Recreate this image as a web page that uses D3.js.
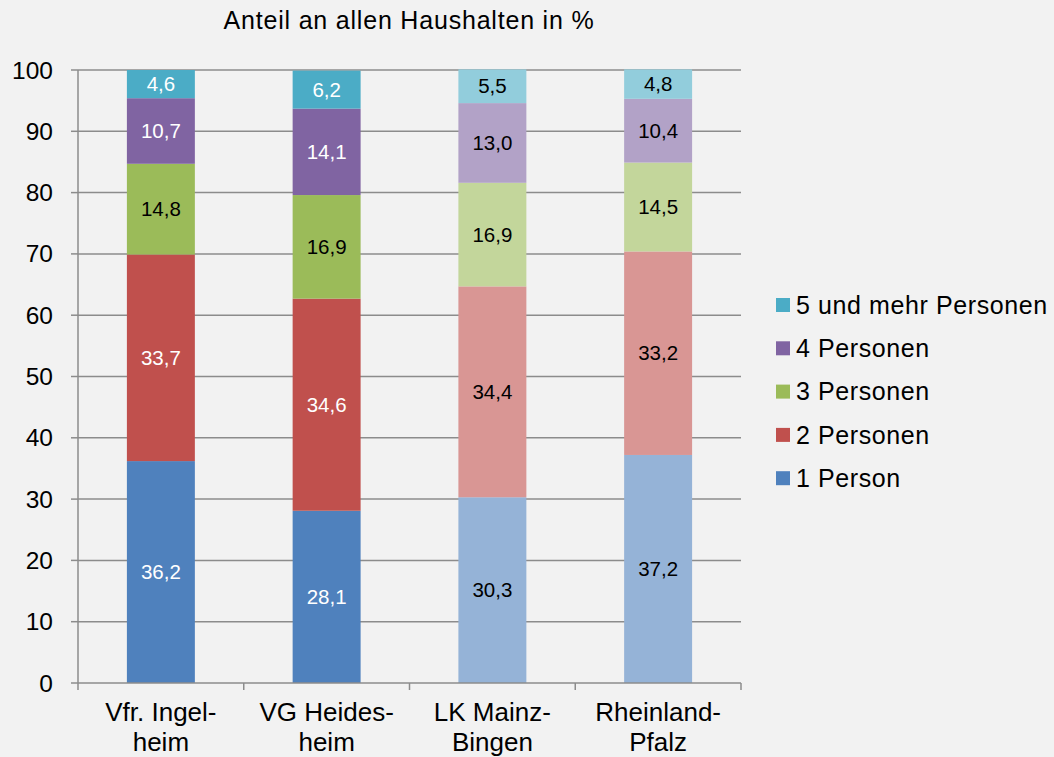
<!DOCTYPE html>
<html>
<head>
<meta charset="utf-8">
<script src="https://cdn.jsdelivr.net/npm/d3@7"></script>
<style>
  body { margin: 0; background: #f2f2f2; }
  text { font-family: "Liberation Sans", Arial, sans-serif; }
</style>
</head>
<body>
<div id="wrapper"></div>
<script>
// Data
const categories = [["Vfr. Ingel-", "heim"], ["VG Heides-", "heim"], ["LK Mainz-", "Bingen"], ["Rheinland-", "Pfalz"]];
const seriesNames = ["1 Person", "2 Personen", "3 Personen", "4 Personen", "5 und mehr Personen"];
const person1 = [36.2, 28.1, 30.3, 37.2];
const person2 = [33.7, 34.6, 34.4, 33.2];
const person3 = [14.8, 16.9, 16.9, 14.5];
const person4 = [10.7, 14.1, 13.0, 10.4];
const person5 = [4.6, 6.2, 5.5, 4.8];
const yTicks = [0, 10, 20, 30, 40, 50, 60, 70, 80, 90, 100];

const darkColors = ["#4f81bd", "#c0504d", "#9bbb59", "#8064a2", "#4bacc6"];
const lightColors = ["#95b3d7", "#d99694", "#c3d69b", "#b2a2c7", "#92cddc"];

const seriesValues = [person1, person2, person3, person4, person5];

function drawChart() {
  const dimensions = {
    width: 1054,
    height: 757,
    margin: { top: 70, right: 313, bottom: 74, left: 78 },
  };
  dimensions.boundedWidth = dimensions.width - dimensions.margin.left - dimensions.margin.right;
  dimensions.boundedHeight = dimensions.height - dimensions.margin.top - dimensions.margin.bottom;

  const wrapper = d3.select("#wrapper")
    .append("svg")
    .attr("width", dimensions.width)
    .attr("height", dimensions.height)
    .style("background", "#f2f2f2");

  // title
  wrapper.append("text")
    .attr("x", 409)
    .attr("y", 29)
    .attr("text-anchor", "middle")
    .style("font-size", "25px")
    .style("letter-spacing", "0.8px")
    .attr("fill", "#000")
    .text("Anteil an allen Haushalten in %");

  const bounds = wrapper.append("g")
    .attr("transform", `translate(${dimensions.margin.left},${dimensions.margin.top})`);

  const xScale = d3.scaleBand()
    .domain(d3.range(categories.length))
    .range([0, dimensions.boundedWidth])
    .paddingInner(0.59)
    .paddingOuter(0.295);

  const yScale = d3.scaleLinear()
    .domain([0, 100])
    .range([dimensions.boundedHeight, 0]);

  // gridlines
  bounds.append("g")
    .selectAll("line")
    .data(yTicks.filter(d => d > 0))
    .join("line")
    .attr("x1", 0)
    .attr("x2", dimensions.boundedWidth)
    .attr("y1", d => yScale(d))
    .attr("y2", d => yScale(d))
    .attr("stroke", "#8c8c8c")
    .attr("stroke-width", 1.5);

  // stacked data
  const rows = categories.map((c, i) => {
    const row = { idx: i };
    seriesNames.forEach((s, j) => row[s] = seriesValues[j][i]);
    return row;
  });
  const stack = d3.stack().keys(seriesNames)(rows);

  const layers = bounds.append("g")
    .selectAll("g")
    .data(stack)
    .join("g");

  layers.selectAll("rect")
    .data((layer, j) => layer.map(d => ({ d, j })))
    .join("rect")
    .attr("x", o => xScale(o.d.data.idx))
    .attr("width", xScale.bandwidth())
    .attr("y", o => yScale(o.d[1]))
    .attr("height", o => yScale(o.d[0]) - yScale(o.d[1]))
    .attr("fill", o => o.d.data.idx < 2 ? darkColors[o.j] : lightColors[o.j]);

  const fmt = v => v.toFixed(1).replace(".", ",");

  layers.selectAll("text")
    .data((layer, j) => layer.map(d => ({ d, j })))
    .join("text")
    .attr("x", o => xScale(o.d.data.idx) + xScale.bandwidth() / 2)
    .attr("y", o => yScale((o.d[0] + o.d[1]) / 2))
    .attr("dy", "0.35em")
    .attr("text-anchor", "middle")
    .style("font-size", "20.5px")
    .attr("fill", o => (o.d.data.idx < 2 && o.j !== 2) ? "#fff" : "#000")
    .text(o => fmt(o.d[1] - o.d[0]));

  // y axis
  const yAxis = bounds.append("g");
  yAxis.append("line")
    .attr("x1", 0).attr("x2", 0)
    .attr("y1", 0).attr("y2", dimensions.boundedHeight)
    .attr("stroke", "#8c8c8c").attr("stroke-width", 1.5);
  yAxis.selectAll(".tick")
    .data(yTicks)
    .join("g")
    .attr("class", "tick")
    .attr("transform", d => `translate(0,${yScale(d)})`)
    .call(g => g.append("line").attr("x1", -7).attr("x2", 0)
      .attr("stroke", "#8c8c8c").attr("stroke-width", 1.5))
    .call(g => g.append("text")
      .attr("x", -25)
      .attr("dy", "0.35em")
      .attr("text-anchor", "end")
      .style("font-size", "24.5px")
      .attr("fill", "#000")
      .text(d => d));

  // x axis
  const xAxis = bounds.append("g")
    .attr("transform", `translate(0,${dimensions.boundedHeight})`);
  xAxis.append("line")
    .attr("x1", 0).attr("x2", dimensions.boundedWidth)
    .attr("stroke", "#8c8c8c").attr("stroke-width", 1.5);
  xAxis.selectAll(".xtick")
    .data(d3.range(categories.length + 1))
    .join("line")
    .attr("x1", i => i * dimensions.boundedWidth / categories.length)
    .attr("x2", i => i * dimensions.boundedWidth / categories.length)
    .attr("y1", 0).attr("y2", 7)
    .attr("stroke", "#8c8c8c").attr("stroke-width", 1.5);

  const catLabels = xAxis.selectAll(".cat")
    .data(categories)
    .join("text")
    .attr("class", "cat")
    .attr("text-anchor", "middle")
    .style("font-size", "26px")
    .attr("fill", "#000");
  catLabels.selectAll("tspan")
    .data((c, i) => c.map(line => ({ line, i })))
    .join("tspan")
    .attr("x", o => xScale(o.i) + xScale.bandwidth() / 2)
    .attr("y", (o, k) => 38 + k * 30)
    .text(o => o.line);

  // legend (reverse order, top = 5 und mehr)
  const legend = wrapper.append("g")
    .attr("transform", "translate(776, 305)");
  const legendItems = legend.selectAll("g")
    .data(seriesNames.map((s, j) => ({ s, j })).reverse())
    .join("g")
    .attr("transform", (d, k) => `translate(0,${k * 43.3})`);
  legendItems.append("rect")
    .attr("x", 0).attr("y", -7)
    .attr("width", 14).attr("height", 14)
    .attr("fill", d => darkColors[d.j]);
  legendItems.append("text")
    .attr("x", 20)
    .attr("dy", "0.35em")
    .style("font-size", "25px")
    .style("letter-spacing", "0.6px")
    .attr("fill", "#000")
    .text(d => d.s);
}

drawChart();
</script>
</body>
</html>
